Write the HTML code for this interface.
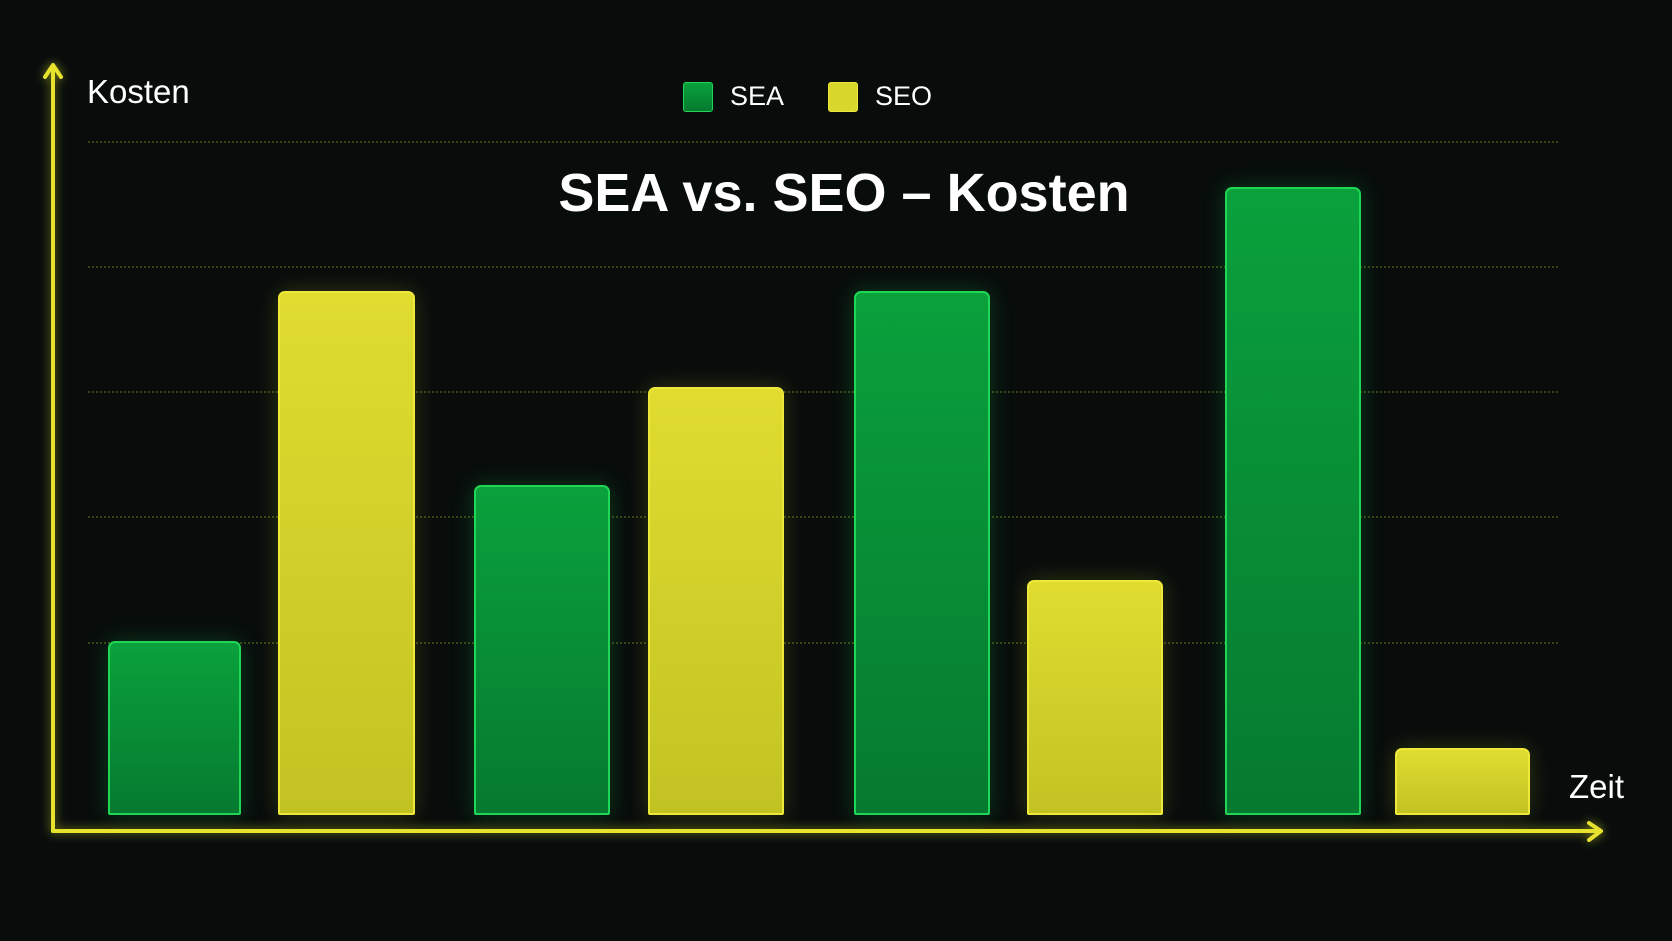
<!DOCTYPE html>
<html><head><style>
html,body{margin:0;padding:0;background:#080d0c;}
body{width:1672px;height:941px;overflow:hidden;position:relative;font-family:"Liberation Sans",sans-serif;}
.bar{position:absolute;border-radius:7px 7px 2px 2px;}
.g{background:linear-gradient(#0aa13c,#067a30);border:2px solid #1fd655;box-shadow:0 0 22px rgba(30,200,80,0.25);}
.y{background:linear-gradient(#e0dc30,#c2c323);border:2px solid #eee83a;box-shadow:0 0 22px rgba(220,220,40,0.2);}
.grid{position:absolute;left:88px;width:1470px;border-top:2px dotted rgba(150,170,40,0.35);}
.t{position:absolute;color:#fff;white-space:nowrap;}
</style></head><body>
<div class="grid" style="top:141px"></div>
<div class="grid" style="top:266px"></div>
<div class="grid" style="top:391px"></div>
<div class="grid" style="top:516px"></div>
<div class="grid" style="top:642px"></div>

<div class="bar g" style="left:108px;top:641px;width:129px;height:170px"></div>
<div class="bar y" style="left:278px;top:291px;width:133px;height:520px"></div>
<div class="bar g" style="left:474px;top:485px;width:132px;height:326px"></div>
<div class="bar y" style="left:648px;top:387px;width:132px;height:424px"></div>
<div class="bar g" style="left:854px;top:291px;width:132px;height:520px"></div>
<div class="bar y" style="left:1027px;top:580px;width:132px;height:231px"></div>
<div class="bar g" style="left:1225px;top:187px;width:132px;height:624px"></div>
<div class="bar y" style="left:1395px;top:748px;width:131px;height:63px"></div>

<svg style="position:absolute;left:0;top:0" width="1672" height="941">
<g stroke="#e6e22e" stroke-width="4" fill="none" stroke-linecap="round" stroke-linejoin="round" style="filter:drop-shadow(0 0 5px rgba(230,230,40,0.6))">
<line x1="53" y1="66" x2="53" y2="831"/>
<polyline points="45,77 53,65 61,77"/>
<line x1="53" y1="831" x2="1600" y2="831"/>
<polyline points="1589,823 1601,831 1589,840"/>
</g>
</svg>

<div class="t" style="left:87px;top:73px;font-size:33px;">Kosten</div>
<div class="t" style="left:1569px;top:768px;font-size:33px;">Zeit</div>
<div class="t" style="left:0;width:1688px;text-align:center;top:162px;font-size:54px;font-weight:bold;">SEA vs. SEO – Kosten</div>

<div style="position:absolute;left:683px;top:82px;width:28px;height:28px;border-radius:3px;background:linear-gradient(#0aa13c,#067a30);border:1px solid #1fd655"></div>
<div class="t" style="left:730px;top:81px;font-size:27px;">SEA</div>
<div style="position:absolute;left:828px;top:82px;width:28px;height:28px;border-radius:3px;background:#d9d62c;border:1px solid #eee83a"></div>
<div class="t" style="left:875px;top:81px;font-size:27px;">SEO</div>
</body></html>
